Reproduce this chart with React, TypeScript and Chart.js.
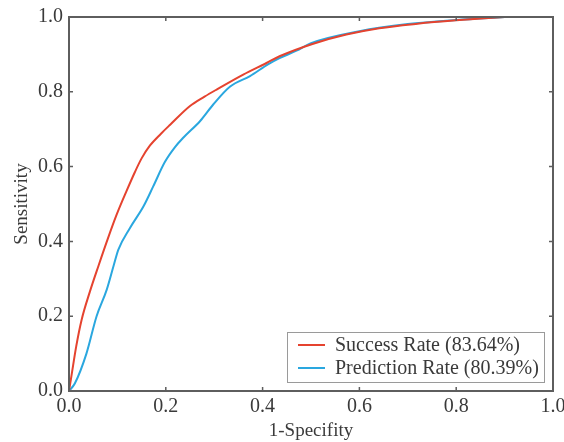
import React, { useEffect, useRef } from "react";
import { Chart, registerables } from "chart.js";

Chart.register(...registerables);

const successLabel = "Success Rate (83.64%)";
const predictionLabel = "Prediction Rate (80.39%)";

const successFpr = [0, 0.005, 0.015, 0.026, 0.043, 0.061, 0.081, 0.098, 0.119, 0.136, 0.15, 0.167, 0.19, 0.209, 0.25, 0.28, 0.305, 0.36, 0.408, 0.435, 0.503, 0.573, 0.641, 0.72, 0.8, 0.9];
const successTpr = [0, 0.04, 0.12, 0.19, 0.265, 0.335, 0.41, 0.47, 0.535, 0.585, 0.622, 0.656, 0.688, 0.712, 0.762, 0.787, 0.806, 0.846, 0.877, 0.895, 0.928, 0.953, 0.970, 0.982, 0.991, 1.0];

const predictionFpr = [0, 0.012, 0.036, 0.057, 0.078, 0.092, 0.102, 0.126, 0.154, 0.174, 0.198, 0.219, 0.236, 0.271, 0.298, 0.333, 0.374, 0.412, 0.435, 0.47, 0.5, 0.6, 0.7, 0.8, 0.9];
const predictionTpr = [0, 0.02, 0.10, 0.2, 0.271, 0.334, 0.378, 0.436, 0.494, 0.547, 0.612, 0.652, 0.677, 0.722, 0.766, 0.814, 0.842, 0.874, 0.89, 0.91, 0.93, 0.962, 0.981, 0.992, 1.0];

const tickValues = [0, 0.2, 0.4, 0.6, 0.8, 1.0];

const RED = "#e5432f";
const BLUE = "#2aa7df";
const AXIS = "#5e5e5e";
const TEXT = "#3a3a3a";
const FONT = "'Liberation Serif', 'Times New Roman', serif";

const framePlugin = {
  id: "frame",
  afterDatasetsDraw(chart: any) {
    const { ctx, chartArea, scales } = chart;
    const { left, right, top, bottom } = chartArea;
    ctx.save();
    ctx.strokeStyle = AXIS;
    ctx.lineWidth = 2;
    ctx.strokeRect(left, top, right - left, bottom - top);
    ctx.lineWidth = 1.5;
    const tl = 4;
    ctx.beginPath();
    tickValues.slice(1, -1).forEach((v) => {
      const x = scales.x.getPixelForValue(v);
      ctx.moveTo(x, bottom);
      ctx.lineTo(x, bottom - tl);
      ctx.moveTo(x, top);
      ctx.lineTo(x, top + tl);
      const y = scales.y.getPixelForValue(v);
      ctx.moveTo(left, y);
      ctx.lineTo(left + tl, y);
      ctx.moveTo(right, y);
      ctx.lineTo(right - tl, y);
    });
    ctx.stroke();

    // legend box
    const bx = 287, by = 332, bw = 257, bh = 50;
    ctx.fillStyle = "#ffffff";
    ctx.fillRect(bx, by, bw, bh);
    ctx.strokeStyle = "#9a9a9a";
    ctx.lineWidth = 1;
    ctx.strokeRect(bx + 0.5, by + 0.5, bw, bh);
    chart.data.datasets.forEach((ds: any, i: number) => {
      const y = by + 13 + i * 23;
      ctx.strokeStyle = ds.borderColor;
      ctx.lineWidth = 2;
      ctx.beginPath();
      ctx.moveTo(298, y);
      ctx.lineTo(325, y);
      ctx.stroke();
      ctx.fillStyle = TEXT;
      ctx.font = `20px ${FONT}`;
      ctx.textBaseline = "middle";
      ctx.textAlign = "left";
      ctx.fillText(ds.label, 335, y + 1);
    });
    ctx.restore();
  },
};

export default function App() {
  const ref = useRef<HTMLCanvasElement | null>(null);
  useEffect(() => {
    if (!ref.current) return;
    const chart = new Chart(ref.current, {
      type: "line",
      data: {
        datasets: [
          {
            label: successLabel,
            data: successFpr.map((x, i) => ({ x, y: successTpr[i] })),
            borderColor: RED,
            borderWidth: 2,
            pointRadius: 0,
            cubicInterpolationMode: "monotone",
            fill: false,
          },
          {
            label: predictionLabel,
            data: predictionFpr.map((x, i) => ({ x, y: predictionTpr[i] })),
            borderColor: BLUE,
            borderWidth: 2,
            pointRadius: 0,
            cubicInterpolationMode: "monotone",
            fill: false,
          },
        ],
      },
      options: {
        responsive: false,
        animation: false,
        layout: { padding: { top: 17, right: 11, left: 0, bottom: 0 } },
        plugins: { legend: { display: false }, tooltip: { enabled: false } },
        scales: {
          x: {
            type: "linear",
            min: 0,
            max: 1,
            afterFit: (s: any) => { s.height = 51; s.paddingLeft = 0; s.paddingRight = 0; },
            afterBuildTicks: (s: any) => { s.ticks = tickValues.map((v) => ({ value: v })); },
            grid: { display: false, drawTicks: false },
            border: { display: false },
            ticks: {
              padding: 4,
              color: TEXT,
              font: { family: FONT, size: 20 },
              callback: (v: any) => Number(v).toFixed(1),
              maxRotation: 0,
            },
            title: {
              display: true,
              text: "1-Specifity",
              color: TEXT,
              font: { family: FONT, size: 19 },
              padding: { top: 0, bottom: 0 },
            },
          },
          y: {
            type: "linear",
            min: 0,
            max: 1,
            afterFit: (s: any) => { s.width = 69; s.paddingTop = 0; s.paddingBottom = 0; },
            afterBuildTicks: (s: any) => { s.ticks = tickValues.map((v) => ({ value: v })); },
            grid: { display: false, drawTicks: false },
            border: { display: false },
            ticks: {
              padding: 6,
              color: TEXT,
              font: { family: FONT, size: 20 },
              callback: (v: any) => Number(v).toFixed(1),
            },
            title: {
              display: true,
              text: "Sensitivity",
              color: TEXT,
              font: { family: FONT, size: 19 },
              padding: { top: 11, bottom: 0 },
            },
          },
        },
      },
      plugins: [framePlugin],
    } as any);
    return () => chart.destroy();
  }, []);
  return (
    <div style={{ position: "absolute", left: 0, top: 0, width: 564, height: 442, background: "#fff" }}>
      <canvas ref={ref} width={564} height={442} />
    </div>
  );
}
